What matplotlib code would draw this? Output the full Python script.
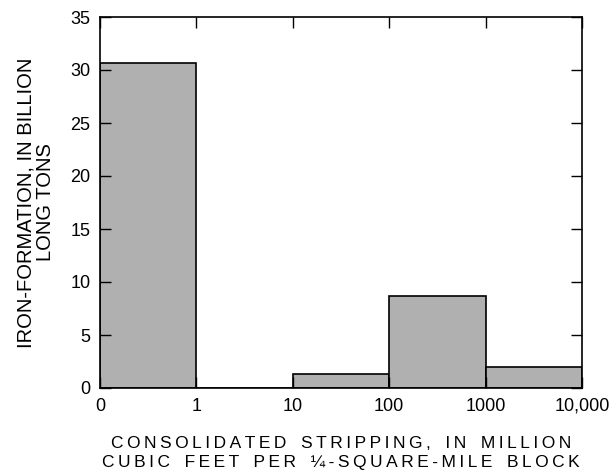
import numpy as np
import matplotlib.pyplot as plt

# bin edges as labelled on the x axis, and iron-formation in each bin
edge_labels = ['0', '1', '10', '100', '1000', '10,000']
tons = [30.7, 0.0, 1.35, 8.7, 2.0]

plt.rcParams['font.family'] = ['Liberation Sans', 'DejaVu Sans']

def spaced(s):
    # loose letter spacing like the original typesetting
    return '\u2009'.join(s).replace('\u2009 \u2009', '   ')

fig = plt.figure(figsize=(6.10, 4.76), dpi=100)
ax = fig.add_axes([100/610, 1 - 388/476, 482/610, 371/476])

x = np.arange(len(tons))
ax.bar(x, tons, width=1.0, align='edge', color='#b0b0b0', edgecolor='black', linewidth=1.2)

ax.set_xlim(0, len(tons))
ax.set_ylim(0, 35)
ax.set_xticks(np.arange(len(edge_labels)))
ax.set_xticklabels(edge_labels)
ax.set_yticks(np.arange(0, 36, 5))
ax.tick_params(direction='in', length=8, width=1, top=True, right=True, labelsize=13, pad=7)
for s in ax.spines.values():
    s.set_linewidth(1.2)

xl = spaced('CONSOLIDATED STRIPPING, IN MILLION') + '\n' + spaced('CUBIC FEET PER ¼-SQUARE-MILE BLOCK')
ax.set_xlabel(xl, fontsize=12.5, labelpad=15, linespacing=1.4)
ax.set_ylabel('IRON-FORMATION, IN BILLION\nLONG TONS', fontsize=14.5, labelpad=11, linespacing=1.05)

fig.savefig('out.png', dpi=100)
